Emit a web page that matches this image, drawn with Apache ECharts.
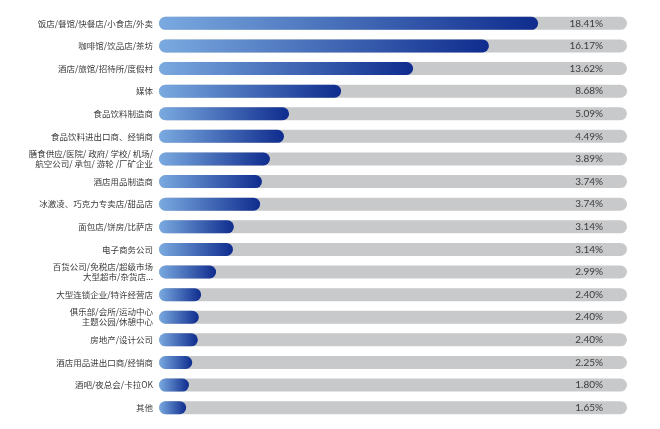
<!DOCTYPE html>
<html lang="zh">
<head>
  <meta charset="UTF-8">
  <title>客户行业分布</title>
  <script src="https://cdn.jsdelivr.net/npm/echarts@6/dist/echarts.min.js"></script>
  <style>
    html, body, #main {
      margin: 0;
      padding: 0;
      width: 100%;
      height: 100%;
      background: #fff;
    }
  </style>
</head>
<body>
  <div id="main"></div>
  <script>
      // 行业分类（从上到下）
      const categories = [
          '饭店/餐馆/快餐店/小食店/外卖',
          '咖啡馆/饮品店/茶坊',
          '酒店/旅馆/招待所/度假村',
          '媒体',
          '食品饮料制造商',
          '食品饮料进出口商、经销商',
          '膳食供应/医院/ 政府/ 学校/ 机场/\n航空公司/ 承包/ 游轮 /厂矿企业',
          '酒店用品制造商',
          '冰激凌、巧克力专卖店/甜品店',
          '面包店/饼房/比萨店',
          '电子商务公司',
          '百货公司/免税店/超级市场\n大型超市/杂货店...',
          '大型连锁企业/特许经营店',
          '俱乐部/会所/运动中心\n主题公园/休憩中心',
          '房地产/设计公司',
          '酒店用品进出口商/经销商',
          '酒吧/夜总会/卡拉OK',
          '其他'
      ];

      // 右侧标注的占比
      const shares = [18.41, 16.17, 13.62, 8.68, 5.09, 4.49, 3.89, 3.74, 3.74,
                      3.14, 3.14, 2.99, 2.40, 2.40, 2.40, 2.25, 1.80, 1.65];

      // 原图中蓝色条的长度（占灰色底条的百分比，原图并非按比例绘制）
      const barLength = [81.0, 70.5, 54.3, 38.9, 27.8, 26.7, 23.7, 22.0, 21.6,
                         16.0, 15.8, 12.2, 9.0, 8.5, 8.3, 7.1, 6.4, 5.8];

      const trackMax = 100;

      const chart = echarts.init(document.getElementById('main'));

      chart.setOption({
        animation: false,
        grid: {
          left: 159,
          right: 33,
          top: 12,
          bottom: 10,
          containLabel: false
        },
        xAxis: {
          type: 'value',
          min: 0,
          max: trackMax,
          show: false
        },
        yAxis: {
          type: 'category',
          data: categories,
          inverse: true,
          axisLine: { show: false },
          axisTick: { show: false },
          axisLabel: {
            margin: 6,
            fontSize: 8.5,
            lineHeight: 10,
            color: '#3a3a3a',
            fontFamily: 'Noto Sans CJK SC'
          }
        },
        series: [
          {
            // 灰色底条 + 百分比
            type: 'bar',
            data: categories.map(() => trackMax),
            barWidth: 13,
            barGap: '-100%',
            silent: true,
            itemStyle: {
              color: '#c8c9cb',
              borderRadius: 6.5
            },
            label: {
              show: true,
              position: 'insideRight',
              offset: [-19, 0],
              fontSize: 10,
              color: '#3c3c3c',
              fontFamily: 'Lato',
              formatter: p => shares[p.dataIndex].toFixed(2) + '%'
            },
            z: 1
          },
          {
            type: 'bar',
            data: barLength,
            barWidth: 13,
            itemStyle: {
              borderRadius: 6.5,
              color: new echarts.graphic.LinearGradient(0, 0, 1, 0, [
                { offset: 0, color: '#7aaae0' },
                { offset: 1, color: '#0f2c8e' }
              ])
            },
            z: 2
          }
        ]
      });
  </script>
</body>
</html>
